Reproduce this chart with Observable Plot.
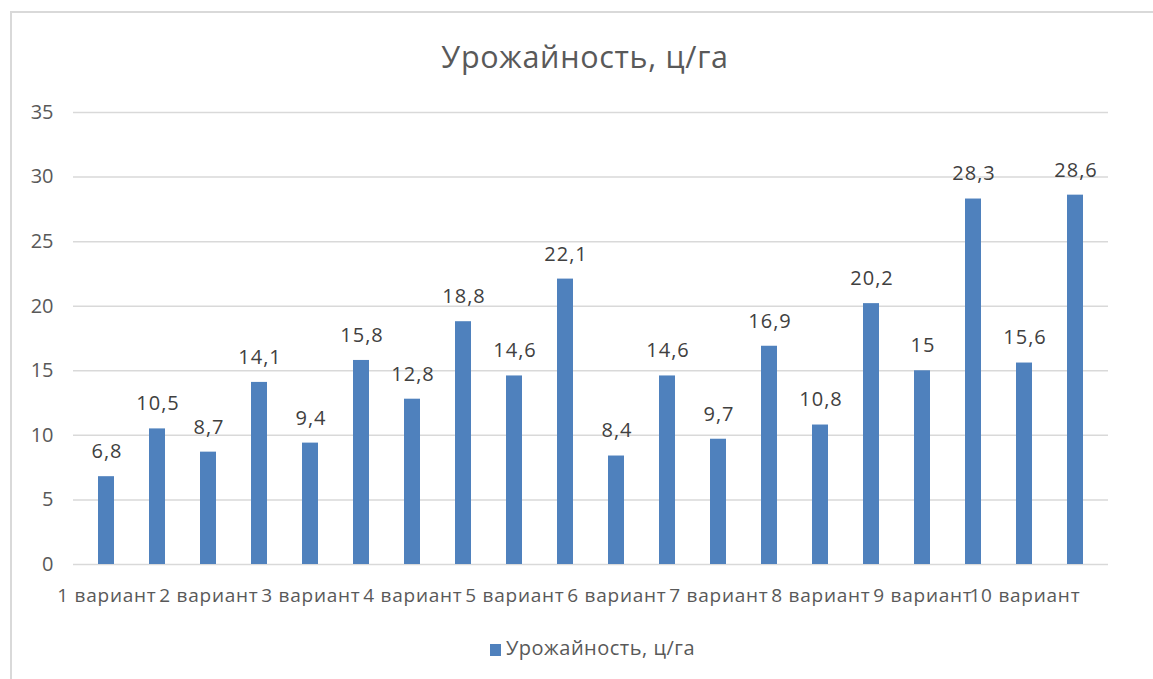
<!DOCTYPE html>
<html>
<head>
<meta charset="utf-8">
<script src="https://cdn.jsdelivr.net/npm/d3@7"></script>
<script src="https://cdn.jsdelivr.net/npm/@observablehq/plot@0.6"></script>
<style>
  html, body { margin: 0; padding: 0; background: #fff; width: 1153px; height: 679px; overflow: hidden; }
  body { position: relative; font-family: "Open Sans", sans-serif; color: #595959; }
  #frame { position: absolute; left: 10px; top: 11px; width: 1160px; height: 700px; border-top: 2px solid #d9d9d9; border-left: 2px solid #d9d9d9; box-sizing: border-box; }
  #title { position: absolute; left: 0; width: 1170px; top: 36px; text-align: center; font-size: 30.5px; letter-spacing: 0.7px; line-height: 40px; color: #595959; }
  #chart { position: absolute; left: 0; top: 90px; }
  #legend { position: absolute; left: 0; width: 1185px; top: 634px; text-align: center; font-size: 20px; letter-spacing: 0.5px; line-height: 28px; color: #595959; }
  #legend .sw { display: inline-block; width: 11px; height: 12px; background: #4f81bd; margin-right: 5px; vertical-align: -1px; }
</style>
</head>
<body>
<div id="frame"></div>
<div id="title">Урожайность, ц/га</div>
<div id="chart"></div>
<div id="legend"><span class="sw"></span>Урожайность, ц/га</div>
<script>
const seriesName = "Урожайность, ц/га";
const variantLabels = ["1 вариант","2 вариант","3 вариант","4 вариант","5 вариант","6 вариант","7 вариант","8 вариант","9 вариант","10 вариант"];
const yields = [6.8, 10.5, 8.7, 14.1, 9.4, 15.8, 12.8, 18.8, 14.6, 22.1, 8.4, 14.6, 9.7, 16.9, 10.8, 20.2, 15, 28.3, 15.6, 28.6];
const yTicks = [0, 5, 10, 15, 20, 25, 30, 35];

const data = yields.map((v, i) => ({i, v}));
const fmt = v => String(v).replace(".", ",");

const chart = Plot.plot({
  width: 1153,
  height: 530,
  marginLeft: 73,
  marginRight: 45,
  marginTop: 22,
  marginBottom: 56,
  style: {fontFamily: "Open Sans, sans-serif", color: "#595959", background: "transparent"},
  x: {type: "band", domain: d3.range(yields.length), paddingInner: 0.69, paddingOuter: 0.345, align: 0.5},
  y: {domain: [0, 35]},
  marks: [
    Plot.gridY(yTicks, {stroke: "#d9d9d9", strokeOpacity: 1, strokeWidth: 1.5}),
    Plot.barY(data, {x: "i", y: "v", fill: "#4f81bd"}),
    Plot.text(data, {x: "i", y: "v", text: d => fmt(d.v), dy: -25, dx: 0.5, fontSize: 20, fill: "#404040", className: "dlabel"}),
    Plot.axisY(yTicks, {tickSize: 0, tickPadding: 20, fontSize: 20, fill: "#595959", label: null}),
    Plot.axisX(d3.range(0, yields.length, 2), {tickSize: 0, tickPadding: 24, fontSize: 19, dx: 0.4, fill: "#595959", label: null,
      tickFormat: i => variantLabels[i / 2], textAnchor: "middle", className: "xlab"})
  ]
});
d3.select(chart).selectAll(".xlab text").style("letter-spacing", "0.75px");
d3.select(chart).selectAll(".dlabel text").style("letter-spacing", "1px");
document.getElementById("chart").appendChild(chart);
</script>
</body>
</html>
